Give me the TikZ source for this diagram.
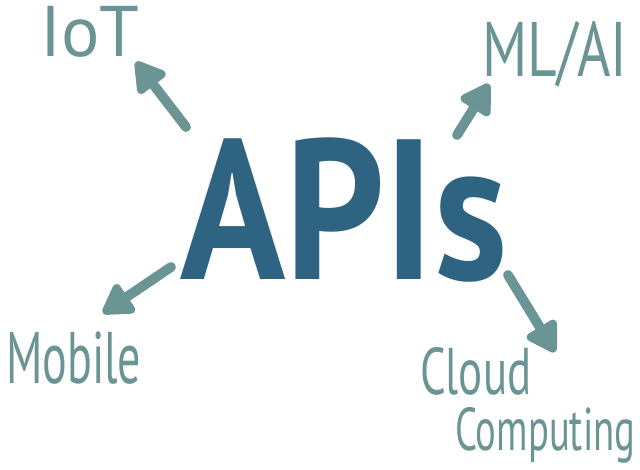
\documentclass[tikz,border=0pt]{standalone}
\usepackage{fontspec}
\setmainfont{PT Sans}
\usetikzlibrary{arrows.meta, positioning}
\definecolor{apiblue}{RGB}{46,99,130}
\definecolor{sagegreen}{RGB}{107,149,148}

\begin{document}
\begin{tikzpicture}[
  x=0.025cm, y=-0.025cm,
  title/.style={text=apiblue, font=\bfseries\fontsize{142}{142}\selectfont, inner sep=0pt, anchor=base west},
  tag/.style={text=sagegreen, inner sep=0pt, anchor=base west},
  pointer/.style={-{Triangle[length=24pt, width=27pt, round]}, line width=7pt, line cap=round, draw=sagegreen}
]
\useasboundingbox[fill=white] (0,0) rectangle (640,469);

% Centre word
\node[title, xscale=0.87] (apis) at (180,279) {APIs};

% Topics round it
\node[tag, font=\fontsize{51}{51}\selectfont] (iot) at (40,56) {IoT};
\node[tag, xscale=0.74, font=\fontsize{55}{55}\selectfont] (mlai) at (482,76) {ML/AI};
\node[tag, xscale=0.63, font=\fontsize{52}{52}\selectfont] (mobile) at (6,383) {Mobile};
\node[tag, xscale=0.68, font=\fontsize{47}{47}\selectfont] (cloud) at (420,394) {Cloud};
\node[tag, xscale=0.64, font=\fontsize{43}{43}\selectfont] (computing) at (455,450) {Computing};

% Arrow ends
\coordinate (iot-tail) at (186,127);
\coordinate (iot-tip) at (136,62);
\coordinate (mlai-tail) at (457,135);
\coordinate (mlai-tip) at (489,84);
\coordinate (mobile-tail) at (171,267);
\coordinate (mobile-tip) at (103,313);
\coordinate (cloud-tail) at (508,275);
\coordinate (cloud-tip) at (555,352);

\draw[pointer] (iot-tail) -- (iot-tip);
\draw[pointer] (mlai-tail) -- (mlai-tip);
\draw[pointer] (mobile-tail) -- (mobile-tip);
\draw[pointer] (cloud-tail) -- (cloud-tip);

\end{tikzpicture}
\end{document}
